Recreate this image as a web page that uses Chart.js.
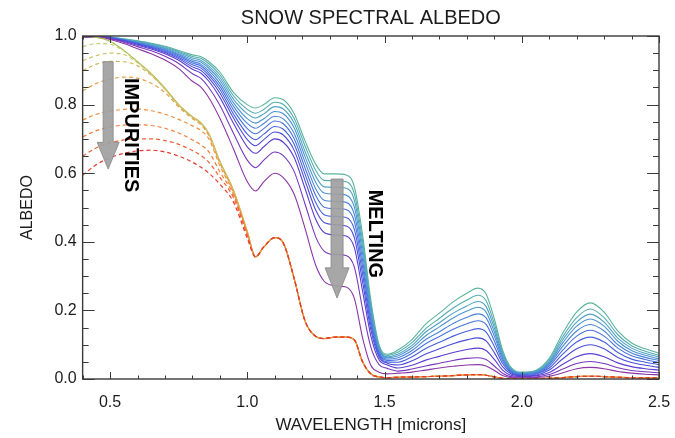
<!DOCTYPE html>
<html>
<head>
<meta charset="utf-8">
<title>Snow spectral albedo</title>
<script src="https://cdn.jsdelivr.net/npm/chart.js@4.4.1/dist/chart.umd.min.js"></script>
<style>
  html, body { margin: 0; padding: 0; background: #fff; }
</style>
</head>
<body>
<canvas id="albedo" width="675" height="438" aria-label="Snow spectral albedo chart"></canvas>
<script>
// wavelength grid in microns, shared by every curve
const WAVELENGTH = [0.40, 0.45, 0.50, 0.55, 0.60, 0.65, 0.70, 0.75, 0.80, 0.83, 0.86, 0.90, 0.95, 1.00, 1.03, 1.06, 1.10, 1.13, 1.17, 1.21,
  1.25, 1.28, 1.32, 1.36, 1.39, 1.42, 1.45, 1.48, 1.51, 1.55, 1.60, 1.65, 1.70, 1.75, 1.80, 1.84, 1.87, 1.90, 1.93, 1.96,
  2.00, 2.05, 2.10, 2.15, 2.20, 2.25, 2.30, 2.35, 2.40, 2.45, 2.50];

// melting: clean snow, grain size growing from melt01 to melt11
const melt01 = [.995, 1, .997, .992, .986, .979, .970, .958, .945, .940, .925, .895, .835, .800, .790, .800, .820, .815, .775, .695,
  .625, .598, .598, .595, .560, .420, .230, .100, .072, .085, .115, .160, .192, .225, .250, .265, .248, .175, .085, .035,
  .020, .025, .060, .135, .195, .222, .195, .140, .105, .088, .075];
const melt02 = [.995, 1, .997, .991, .985, .977, .968, .955, .940, .935, .919, .887, .825, .786, .775, .786, .807, .801, .761, .680,
  .607, .579, .578, .575, .540, .402, .219, .095, .069, .079, .106, .147, .177, .207, .230, .244, .228, .161, .078, .032,
  .018, .023, .055, .124, .179, .204, .179, .129, .097, .081, .069];
const melt03 = [.995, 1, .996, .990, .983, .975, .965, .952, .936, .929, .912, .879, .815, .773, .761, .773, .794, .788, .747, .664,
  .590, .560, .559, .556, .521, .384, .207, .090, .065, .073, .098, .137, .164, .192, .213, .226, .211, .149, .072, .030,
  .017, .021, .051, .115, .166, .189, .166, .119, .090, .075, .064];
const melt04 = [.995, 1, .996, .989, .982, .973, .963, .948, .931, .924, .906, .871, .805, .759, .746, .759, .780, .774, .733, .649,
  .572, .542, .539, .536, .501, .366, .196, .086, .062, .068, .091, .126, .152, .178, .198, .209, .195, .137, .066, .027,
  .016, .020, .047, .106, .154, .175, .154, .110, .083, .069, .059];
const melt05 = [.995, 1, .995, .989, .980, .971, .960, .945, .926, .918, .899, .862, .795, .745, .731, .745, .766, .759, .717, .633,
  .553, .521, .518, .515, .480, .346, .183, .080, .058, .062, .083, .115, .138, .162, .180, .190, .178, .125, .060, .025,
  .014, .018, .043, .096, .140, .159, .140, .100, .076, .063, .054];
const melt06 = [.995, 1, .995, .988, .979, .969, .958, .942, .921, .913, .892, .853, .784, .730, .715, .730, .752, .745, .702, .616,
  .534, .501, .497, .494, .459, .327, .171, .075, .054, .056, .075, .103, .124, .145, .161, .170, .159, .111, .053, .022,
  .013, .016, .038, .085, .125, .142, .125, .090, .068, .057, .048];
const melt07 = [.995, .999, .994, .987, .977, .967, .955, .938, .916, .907, .885, .844, .772, .714, .698, .714, .736, .729, .686, .598,
  .513, .479, .474, .471, .436, .306, .158, .070, .050, .049, .065, .089, .107, .125, .139, .147, .137, .095, .045, .019,
  .011, .014, .032, .073, .108, .122, .108, .077, .058, .049, .042];
const melt08 = [.995, .999, .994, .986, .976, .965, .952, .934, .910, .900, .877, .834, .760, .698, .680, .698, .720, .712, .668, .579,
  .491, .456, .450, .446, .412, .283, .144, .064, .046, .041, .053, .073, .088, .103, .114, .120, .111, .077, .036, .015,
  .009, .011, .026, .059, .088, .100, .088, .063, .048, .040, .034];
const melt09 = [.995, .999, .993, .984, .973, .962, .948, .929, .903, .892, .868, .821, .745, .677, .658, .677, .700, .691, .647, .556,
  .464, .427, .420, .417, .383, .256, .126, .056, .041, .032, .040, .055, .066, .077, .086, .090, .083, .057, .026, .011,
  .007, .009, .019, .043, .065, .074, .065, .047, .036, .030, .026];
const melt10 = [.995, .999, .992, .982, .969, .957, .941, .920, .890, .877, .849, .798, .716, .638, .616, .638, .662, .652, .606, .511,
  .413, .373, .363, .360, .326, .204, .093, .042, .031, .023, .029, .038, .046, .054, .060, .062, .057, .038, .017, .007,
  .005, .006, .013, .029, .045, .051, .045, .033, .025, .021, .018];
const melt11 = [.995, .998, .990, .978, .963, .948, .930, .905, .868, .852, .820, .760, .670, .575, .548, .575, .600, .588, .540, .440,
  .330, .285, .272, .268, .235, .120, .040, .020, .015, .017, .020, .026, .032, .037, .041, .042, .038, .025, .010, .004,
  .003, .004, .008, .018, .030, .034, .030, .022, .017, .014, .012];

// coarse-grained clean snow, the curve the impurity runs fall onto
const coarseClean = [.998, .996, .985, .958, .925, .890, .848, .800, .765, .748, .715, .635, .550, .430, .356, .385, .412, .398, .295, .170,
  .124, .118, .122, .122, .114, .050, .015, .006, .004, .005, .006, .007, .008, .010, .012, .013, .011, .006, .002, .001,
  .001, .001, .002, .004, .007, .008, .007, .005, .004, .003, .003];

// impurity runs, 0.40 to 1.00 microns; beyond that they sit on coarseClean
const soot1 = [.969, .978, .976, .956, .924, .889, .847, .799, .764, .747, .714, .634, .549, .429];
const soot2 = [.928, .943, .950, .946, .922, .888, .846, .798, .763, .746, .713, .633, .548, .428];
const soot3 = [.899, .918, .926, .925, .913, .885, .845, .797, .762, .745, .712, .632, .547, .428];
const soot4 = [.840, .862, .874, .880, .877, .862, .835, .793, .759, .742, .709, .630, .545, .427];
const soot5 = [.755, .772, .781, .786, .787, .782, .772, .757, .738, .725, .700, .622, .541, .425];
const soot6 = [.706, .724, .735, .740, .741, .739, .731, .717, .697, .683, .662, .604, .536, .422];
const soot7 = [.650, .674, .689, .697, .700, .700, .695, .684, .666, .652, .632, .588, .528, .418];
const soot8 = [.594, .625, .645, .658, .665, .667, .662, .650, .632, .618, .600, .568, .515, .410];

const X_TICKS = [0.5, 1.0, 1.5, 2.0, 2.5];
const Y_TICKS = [0.0, 0.2, 0.4, 0.6, 0.8, 1.0];

const MELT = [melt01, melt02, melt03, melt04, melt05, melt06, melt07, melt08, melt09, melt10, melt11];
const MELT_COLORS = ['#5ab49c', '#55acb0', '#50a2c2', '#4b94d2', '#4a84da', '#4872df', '#4660df', '#4c4cda', '#5c3ed2', '#7838be', '#8c35a6'];
const SOOT = [soot1, soot2, soot3, soot4, soot5, soot6, soot7, soot8];
const SOOT_COLORS = ['#c3cf78', '#cdc46a', '#d8b55c', '#e4a24c', '#ee9140', '#f27e3c', '#ef6238', '#e6382e'];
const COARSE_COLOR = '#a3b64e';

const FONT = "'Liberation Sans', Arial, Helvetica, sans-serif";
const INK = '#1c1c1c';

function pointsOf(values) {
  return WAVELENGTH.map((w, i) => ({ x: w, y: values[i] }));
}

function line(values, color, dashed) {
  return {
    data: pointsOf(values),
    borderColor: color,
    borderWidth: dashed ? 1.2 : 1.1,
    borderDash: dashed ? [4, 3] : [],
    pointRadius: 0,
    fill: false,
    cubicInterpolationMode: 'monotone',
  };
}

// listed bottom layer first
const layers = [];
MELT.forEach((m, i) => layers.push(line(m, MELT_COLORS[i], false)));
layers.push(line(coarseClean, COARSE_COLOR, false));
SOOT.forEach((s, i) => layers.push(line(s.concat(coarseClean.slice(s.length)), SOOT_COLORS[i], true)));
// chart.js paints the first dataset last
const datasets = layers.reverse();

function arrow(ctx, x, y, xv, topV, neckV, tipV, shaftW, headW) {
  const cx = x.getPixelForValue(xv);
  const top = y.getPixelForValue(topV);
  const neck = y.getPixelForValue(neckV);
  const tip = y.getPixelForValue(tipV);
  ctx.beginPath();
  ctx.moveTo(cx - shaftW / 2, top);
  ctx.lineTo(cx + shaftW / 2, top);
  ctx.lineTo(cx + shaftW / 2, neck);
  ctx.lineTo(cx + headW / 2, neck);
  ctx.lineTo(cx, tip);
  ctx.lineTo(cx - headW / 2, neck);
  ctx.lineTo(cx - shaftW / 2, neck);
  ctx.closePath();
  ctx.fillStyle = 'rgba(160,160,160,0.92)';
  ctx.fill();
  ctx.strokeStyle = 'rgba(140,140,140,0.9)';
  ctx.lineWidth = 1;
  ctx.stroke();
}

function sideways(ctx, x, y, text, xv, yv) {
  ctx.save();
  ctx.translate(x.getPixelForValue(xv), y.getPixelForValue(yv));
  ctx.rotate(Math.PI / 2);
  ctx.font = 'bold 20px ' + FONT;
  ctx.fillStyle = '#000';
  ctx.textAlign = 'center';
  ctx.textBaseline = 'middle';
  ctx.fillText(text, 0, 0);
  ctx.restore();
}

const frameAndNotes = {
  id: 'frameAndNotes',
  afterDatasetsDraw(chart) {
    const { ctx, chartArea: a, scales: { x, y } } = chart;
    ctx.save();

    arrow(ctx, x, y, 0.493, 0.925, 0.690, 0.612, 10, 22);
    arrow(ctx, x, y, 1.327, 0.583, 0.324, 0.236, 12, 24);
    sideways(ctx, x, y, 'IMPURITIES', 0.576, 0.711);
    sideways(ctx, x, y, 'MELTING', 1.462, 0.423);

    // box with inward ticks on all four sides
    ctx.strokeStyle = '#3a3a3a';
    ctx.lineWidth = 1.4;
    ctx.strokeRect(a.left, a.top, a.right - a.left, a.bottom - a.top);
    ctx.lineWidth = 1;
    ctx.beginPath();
    for (let i = 4; i <= 25; i++) {
      const px = Math.round(x.getPixelForValue(i / 10)) + 0.5;
      const len = i % 5 === 0 ? 7 : 3.5;
      ctx.moveTo(px, a.bottom); ctx.lineTo(px, a.bottom - len);
      ctx.moveTo(px, a.top); ctx.lineTo(px, a.top + len);
    }
    for (let i = 0; i <= 20; i++) {
      const py = Math.round(y.getPixelForValue(i / 20)) + 0.5;
      const len = i % 4 === 0 ? 12 : 6;
      ctx.moveTo(a.left, py); ctx.lineTo(a.left + len, py);
      ctx.moveTo(a.right, py); ctx.lineTo(a.right - len, py);
    }
    ctx.stroke();
    ctx.restore();
  }
};

new Chart(document.getElementById('albedo').getContext('2d'), {
  type: 'line',
  data: { datasets },
  plugins: [frameAndNotes],
  options: {
    responsive: false,
    animation: false,
    events: [],
    layout: { padding: { left: 10, right: 16, top: 0, bottom: 0 } },
    plugins: {
      legend: { display: false },
      tooltip: { enabled: false },
      title: {
        display: true,
        text: 'SNOW SPECTRAL ALBEDO',
        fullSize: false,
        color: INK,
        font: { family: FONT, size: 20, weight: 'normal' },
        padding: { top: 6, bottom: 6 },
      },
    },
    scales: {
      x: {
        type: 'linear',
        min: 0.4,
        max: 2.5,
        // tick marks are drawn by the plugin; tickLength only spaces the labels
        grid: { display: false, drawTicks: true, tickLength: 10 },
        border: { display: false },
        afterBuildTicks: s => { s.ticks = X_TICKS.map(v => ({ value: v })); },
        ticks: {
          padding: 4,
          color: INK,
          maxRotation: 0,
          autoSkip: false,
          font: { family: FONT, size: 16 },
          callback: v => v.toFixed(1),
        },
        title: {
          display: true,
          text: 'WAVELENGTH [microns]',
          color: INK,
          font: { family: FONT, size: 17 },
          padding: { top: -1.4, bottom: 2.8 },
        },
      },
      y: {
        type: 'linear',
        min: 0,
        max: 1,
        grid: { display: false, drawTicks: false },
        border: { display: false },
        afterBuildTicks: s => { s.ticks = Y_TICKS.map(v => ({ value: v })); },
        ticks: {
          padding: 6,
          color: INK,
          font: { family: FONT, size: 16 },
          callback: v => v.toFixed(1),
        },
        title: {
          display: true,
          text: 'ALBEDO',
          color: INK,
          font: { family: FONT, size: 16 },
          padding: { top: 8.4, bottom: 10.8 },
        },
      },
    },
  },
});
</script>
</body>
</html>
